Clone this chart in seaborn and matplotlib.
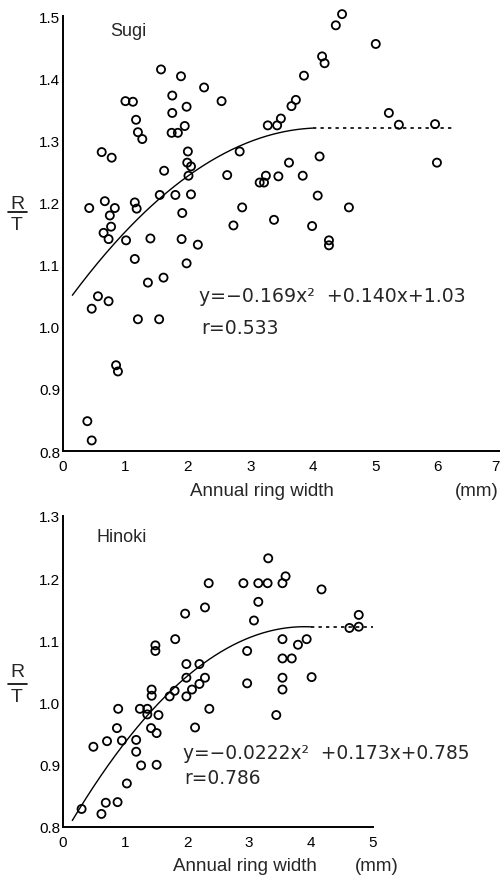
import numpy as np
import pandas as pd
import matplotlib
matplotlib.use("Agg")
import matplotlib.pyplot as plt
from matplotlib.lines import Line2D
import seaborn as sns

# ---------------- data ----------------
sugi_x = [1.57, 1.89, 2.26, 2.54, 1.00, 1.12, 1.75, 1.75, 1.98, 1.17,
          1.20, 1.27, 1.74, 1.84, 1.95, 2.83, 0.62, 0.78, 2.00, 1.99,
          2.05, 2.01, 2.63, 1.62, 1.55, 1.80, 2.05, 1.91, 2.87, 0.42,
          0.67, 0.83, 0.75, 1.15, 1.18, 4.47, 4.37, 5.01, 4.15, 4.19,
          3.86, 3.73, 3.66, 3.49, 3.43, 3.28, 5.22, 5.38, 5.96, 5.99,
          4.11, 3.62, 3.25, 3.45, 3.84, 3.15, 3.22, 4.08, 4.58, 3.38,
          3.99, 4.26, 4.26, 2.73, 0.77, 0.65, 0.73, 1.01, 1.40, 1.90,
          2.16, 1.15, 1.98, 1.61, 1.36, 0.56, 0.46, 0.73, 1.20, 1.54,
          0.85, 0.88, 0.39, 0.46]
sugi_y = [1.414, 1.403, 1.385, 1.363, 1.363, 1.362, 1.372, 1.344, 1.354, 1.333,
          1.313, 1.302, 1.312, 1.312, 1.323, 1.282, 1.281, 1.272, 1.282, 1.264,
          1.258, 1.243, 1.244, 1.251, 1.212, 1.212, 1.213, 1.183, 1.192, 1.191,
          1.202, 1.191, 1.179, 1.200, 1.190, 1.503, 1.485, 1.455, 1.435, 1.424,
          1.404, 1.365, 1.355, 1.335, 1.324, 1.324, 1.344, 1.325, 1.326, 1.264,
          1.274, 1.264, 1.243, 1.242, 1.243, 1.232, 1.232, 1.211, 1.192, 1.172,
          1.162, 1.139, 1.131, 1.163, 1.161, 1.151, 1.141, 1.139, 1.142, 1.141,
          1.132, 1.109, 1.102, 1.079, 1.071, 1.049, 1.029, 1.041, 1.012, 1.012,
          0.938, 0.928, 0.848, 0.817]

hinoki_x = [2.35, 2.91, 2.29, 1.97, 1.81, 1.49, 1.49, 1.99, 2.20, 2.97,
            1.99, 2.29, 2.20, 2.97, 3.31, 3.15, 3.30, 3.59, 3.54, 4.17,
            3.15, 3.08, 4.77, 4.62, 4.77, 3.54, 3.93, 3.79, 3.54, 3.69,
            3.54, 4.01, 3.54, 3.44, 1.99, 2.08, 1.80, 1.72, 1.43, 1.43,
            2.36, 2.13, 1.24, 1.36, 1.36, 1.54, 0.89, 0.87, 1.42, 1.51,
            0.49, 0.71, 0.95, 1.18, 1.18, 1.26, 1.51, 1.03, 0.69, 0.88,
            0.62, 0.30]
hinoki_y = [1.192, 1.192, 1.153, 1.143, 1.102, 1.092, 1.083, 1.062, 1.062, 1.083,
            1.040, 1.040, 1.030, 1.031, 1.232, 1.192, 1.192, 1.203, 1.192, 1.182,
            1.162, 1.132, 1.141, 1.120, 1.122, 1.102, 1.102, 1.093, 1.071, 1.071,
            1.040, 1.041, 1.021, 0.980, 1.010, 1.021, 1.019, 1.010, 1.021, 1.011,
            0.990, 0.960, 0.990, 0.990, 0.981, 0.980, 0.990, 0.959, 0.959, 0.951,
            0.929, 0.938, 0.939, 0.940, 0.921, 0.899, 0.900, 0.870, 0.839, 0.840,
            0.821, 0.829]

# fitted curve coefficients (a x^2 + b x + c), fit range, plateau extension
sugi_coef = [-0.0169, 0.140, 1.03]
sugi_fit_range = [0.15, 4.0]
sugi_plateau_end = 6.25
hinoki_coef = [-0.0222, 0.173, 0.785]
hinoki_fit_range = [0.15, 4.0]
hinoki_plateau_end = 5.1

sugi_xticks = [0, 1, 2, 3, 4, 5, 6, 7]
sugi_yticks = [0.8, 0.9, 1.0, 1.1, 1.2, 1.3, 1.4, 1.5]
hinoki_xticks = [0, 1, 2, 3, 4, 5]
hinoki_yticks = [0.8, 0.9, 1.0, 1.1, 1.2, 1.3]

sugi_eq = "y=\u22120.169x\u00b2  +0.140x+1.03"
sugi_r = "r=0.533"
hinoki_eq = "y=\u22120.0222x\u00b2  +0.173x+0.785"
hinoki_r = "r=0.786"

# ---------------- style ----------------
sns.set_theme(style="white")
plt.rcParams['font.family'] = ['Liberation Sans', 'DejaVu Sans']

W, H = 500, 878
fig = plt.figure(figsize=(W / 100, H / 100), dpi=100)


def fx(px):
    return px / W


def fy(py):
    return 1 - py / H


ax1 = fig.add_axes([fx(63), fy(452), fx(437), (452 - 17) / H])
ax2 = fig.add_axes([fx(63), fy(828), fx(310), (828 - 517) / H])


def draw(ax, xs, ys, coef, fit_range, plat_end, xticks, yticks):
    df = pd.DataFrame({"width": xs, "rt": ys})
    sns.scatterplot(data=df, x="width", y="rt", ax=ax, marker="o", s=34,
                    facecolor="none", edgecolor="black", linewidth=1.3,
                    zorder=3, clip_on=False)
    a, b, c = coef
    xc = np.linspace(fit_range[0], fit_range[1], 200)
    yc = a * xc ** 2 + b * xc + c
    sns.lineplot(x=xc, y=yc, ax=ax, color="black", lw=1.0, sort=False)
    yp = a * fit_range[1] ** 2 + b * fit_range[1] + c
    ax.plot([fit_range[1], plat_end], [yp, yp], color="black", lw=1.2,
            linestyle=(0, (2, 2.5)))
    ax.set_xlim(xticks[0], xticks[-1])
    ax.set_ylim(yticks[0], yticks[-1])
    ax.set_xticks(xticks)
    ax.set_yticks(yticks)
    ax.set_xticklabels([str(t) for t in xticks])
    ax.set_yticklabels([f"{t:.1f}" for t in yticks])
    ax.set_xlabel("")
    ax.set_ylabel("")
    for s in ["top", "right"]:
        ax.spines[s].set_visible(False)
    for s in ["left", "bottom"]:
        ax.spines[s].set_color("black")
        ax.spines[s].set_linewidth(1.4)
    ax.tick_params(axis="both", direction="in", length=4, width=1.1,
                   color="black", labelsize=11, labelcolor="black")
    ax.tick_params(axis="x", pad=6)
    ax.tick_params(axis="y", pad=2, length=3)
    ax.set_facecolor("white")


draw(ax1, sugi_x, sugi_y, sugi_coef, sugi_fit_range, sugi_plateau_end,
     sugi_xticks, sugi_yticks)
draw(ax2, hinoki_x, hinoki_y, hinoki_coef, hinoki_fit_range,
     hinoki_plateau_end, hinoki_xticks, hinoki_yticks)

# keep the last top x tick label inside the canvas
ax1.get_xticklabels()[-1].set_horizontalalignment("right")

# titles
fig.text(fx(110), fy(31), "Sugi", fontsize=13, va="center", ha="left")
fig.text(fx(97), fy(538), "Hinoki", fontsize=13, va="center", ha="left")

# equations
eq_font = ['DejaVu Sans']
fig.text(fx(199), fy(296), sugi_eq, fontsize=13.6, va="center", ha="left",
         family=eq_font)
fig.text(fx(201), fy(328), sugi_r, fontsize=13.6, va="center", ha="left",
         family=eq_font)
fig.text(fx(183), fy(754), hinoki_eq, fontsize=13.4, va="center", ha="left",
         family=eq_font)
fig.text(fx(184), fy(779), hinoki_r, fontsize=13.4, va="center", ha="left",
         family=eq_font)

# axis labels
fig.text(fx(262), fy(492), "Annual ring width", fontsize=13.5,
         va="center", ha="center")
fig.text(fx(477), fy(492), "(mm)", fontsize=13.5, va="center", ha="center")
fig.text(fx(245), fy(867), "Annual ring width", fontsize=13.5,
         va="center", ha="center")
fig.text(fx(377), fy(867), "(mm)", fontsize=13.5, va="center", ha="center")

# R / T labels
for r_y, l_y, t_y in [(205, 213, 226), (673, 685, 697)]:
    fig.text(fx(17), fy(r_y), "R", fontsize=14, va="center", ha="center")
    fig.text(fx(17), fy(t_y), "T", fontsize=14, va="center", ha="center")
    fig.add_artist(Line2D([fx(8), fx(27)], [fy(l_y), fy(l_y)],
                          transform=fig.transFigure, color="black", lw=1.2))

fig.savefig("out.png", dpi=100, facecolor="white")
